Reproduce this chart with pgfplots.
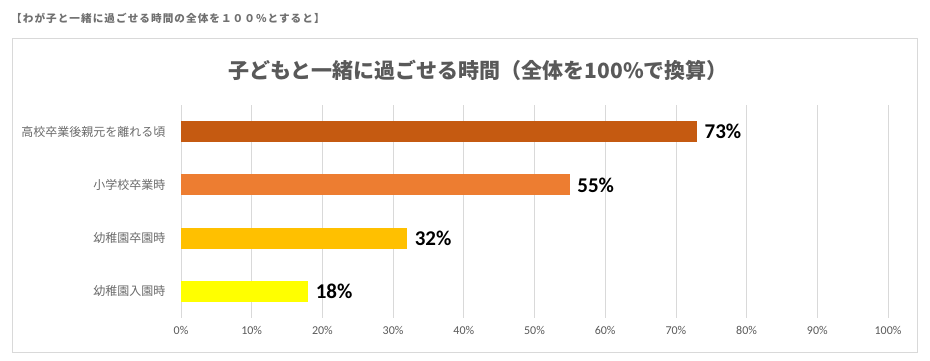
\documentclass[border=0pt]{standalone}
\usepackage{fontspec}
\usepackage{pgfplots}
\pgfplotsset{compat=1.18}
\setmainfont{Carlito}
\newfontfamily\jp{Noto Sans CJK JP}
\newfontfamily\jphead[LetterSpace=10]{Noto Sans CJK JP}
\definecolor{c1}{HTML}{C55A11}
\definecolor{c2}{HTML}{ED7D31}
\definecolor{c3}{HTML}{FFC000}
\definecolor{c4}{HTML}{FFFF00}
\definecolor{boxgray}{HTML}{D9D9D9}
\definecolor{gridgray}{HTML}{D9D9D9}
\definecolor{titlegray}{HTML}{595959}
\definecolor{labgray}{HTML}{6A6A6A}
\definecolor{headgray}{HTML}{707070}
\begin{document}
\begin{tikzpicture}[x=1pt,y=1pt]
\path[use as bounding box] (0,0) rectangle (930,361);
\draw[boxgray, line width=0.8pt] (12,9) rectangle (917,323);
\node[anchor=west, text=headgray, font=\jphead\bfseries\fontsize{10.6}{12}\selectfont, inner sep=0pt] at (11,343) {【わが子と一緒に過ごせる時間の全体を１００％とすると】};
\node[font=\jp\bfseries\fontsize{21}{24}\selectfont, text=titlegray] at (478,291) {子どもと一緒に過ごせる時間（全体を100\%で換算）};
\begin{axis}[
  at={(181pt,43pt)}, anchor=south west,
  width=707pt, height=213pt, scale only axis,
  /pgf/number format/assume math mode=true,
  xbar, bar width=21pt,
  xmin=0, xmax=100, ymin=-0.5, ymax=3.5,
  ytick={0,1,2,3},
  yticklabels={幼稚園入園時,幼稚園卒園時,小学校卒業時,高校卒業後親元を離れる頃},
  xtick={0,10,...,100},
  xticklabel={\pgfmathprintnumber{\tick}\%},
  axis line style={draw=none},
  major tick length=0pt,
  xmajorgrids,
  grid style={gridgray, line width=0.7pt},
  yticklabel style={font=\jp\fontsize{12}{14}\selectfont, text=labgray, xshift=-12pt},
  xticklabel style={font=\fontsize{12}{14}\selectfont, text=titlegray, yshift=-5pt},
  nodes near coords={\pgfmathprintnumber{\pgfplotspointmeta}\%},
  nodes near coords style={anchor=west, font=\bfseries\fontsize{21}{24}\selectfont, text=black, xshift=4pt},
]
\addplot[fill=c4, draw=none, bar shift=0pt] coordinates {(18,0)};
\addplot[fill=c3, draw=none, bar shift=0pt] coordinates {(32,1)};
\addplot[fill=c2, draw=none, bar shift=0pt] coordinates {(55,2)};
\addplot[fill=c1, draw=none, bar shift=0pt] coordinates {(73,3)};
\end{axis}
\end{tikzpicture}
\end{document}
